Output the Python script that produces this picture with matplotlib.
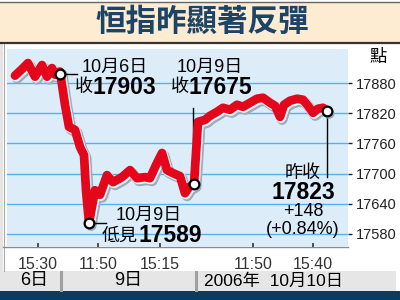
import matplotlib
matplotlib.use("Agg")
import matplotlib.pyplot as plt
import matplotlib.patheffects as pe
from matplotlib.patches import Rectangle

plt.rcParams['font.family'] = ['Liberation Sans', 'Noto Sans CJK TC']

# 恒指走勢 (x = 交易時段位置)
x6 = [15, 22, 28, 35, 42, 47, 52, 55, 60]
v6 = [17895, 17908, 17920, 17893, 17916, 17893, 17910, 17897, 17903]
x9 = [60, 65, 69, 75, 80, 84, 86, 89, 95, 100, 107, 113, 122, 130, 137, 145,
      150, 156, 162, 167, 173, 180, 185, 189, 194]
v9 = [17903, 17837, 17793, 17787, 17753, 17737, 17667, 17602, 17667, 17658,
      17697, 17683, 17693, 17707, 17691, 17693, 17691, 17717, 17741, 17707,
      17701, 17695, 17661, 17673, 17679]
x10 = [194, 198, 205, 210, 217, 223, 230, 237, 243, 250, 257, 263, 270, 275,
       280, 284, 290, 297, 303, 308, 313, 318, 323, 327]
v10 = [17679, 17803, 17807, 17815, 17823, 17831, 17827, 17837, 17833, 17841,
       17849, 17851, 17841, 17835, 17813, 17837, 17845, 17849, 17847, 17835,
       17821, 17829, 17831, 17825]

xs = x6 + x9[1:] + x10[1:]
vs = v6 + v9[1:] + v10[1:]

yticks = [17580, 17640, 17700, 17760, 17820, 17880]
xtick_pos = [38, 98, 160, 253, 313]
xtick_lab = ['15:30', '11:50', '15:15', '11:50', '15:40']

fig = plt.figure(figsize=(4, 3), dpi=100)

# background / frame in pixel coordinates
bg = fig.add_axes([0, 0, 1, 1])
bg.set_xlim(0, 400)
bg.set_ylim(300, 0)
bg.axis('off')
bg.add_patch(Rectangle((0, 2), 400, 40, color='#fdebd2', lw=0))
bg.plot([0, 400], [1.5, 1.5], color='#666666', lw=1)
bg.plot([0, 400], [43, 43], color='#333333', lw=1.6)
bg.add_patch(Rectangle((0, 44), 3, 227, color='#e4e4e4', lw=0))
bg.plot([3.5, 3.5], [44, 271], color='#a8a8a8', lw=0.8)
bg.add_patch(Rectangle((0, 271), 396, 20, color='#e6e6e6', lw=0))
bg.add_patch(Rectangle((0, 291), 400, 9, color='#0e3a5c', lw=0))
for sx in [61, 196]:
    bg.plot([sx, sx], [272, 290], color='#a0a0a0', lw=2.2)
bg.plot([3, 348], [247, 247], color='#8a8a8a', lw=1)
bg.text(202, 23, '恒指昨顯著反彈', ha='center', va='center', fontsize=22,
        fontweight='heavy', color='#1b4466')
bg.text(378, 57, '點', ha='center', va='center', fontsize=12.5)
bg.text(34, 281, '6日', ha='center', va='center', fontsize=13)
bg.text(128, 281, '9日', ha='center', va='center', fontsize=13)
bg.text(204, 281, '2006年  10月10日', ha='left', va='center', fontsize=12.5)

ax = fig.add_axes([7 / 400, 1 - 247 / 300, 341 / 400, 198 / 300])
ax.set_facecolor('#dcedf9')
ax.set_xlim(7, 348)
ax.set_ylim(17554, 17948)
for s in ax.spines.values():
    s.set_visible(False)
for t in yticks:
    ax.axhline(t, color='#55b2ea', lw=1, zorder=1)

ax.yaxis.tick_right()
ax.set_yticks(yticks)
ax.set_yticklabels([str(t) for t in yticks], fontsize=10.5)
ax.tick_params(axis='y', direction='out', length=3, width=1, pad=3, colors='#222222')
ax.set_xticks(xtick_pos)
ax.set_xticklabels(xtick_lab, fontsize=11.5)
ax.tick_params(axis='x', direction='in', length=3, width=1.2, pad=7, colors='#333333')

ax.plot(xs, vs, color='#e4061b', lw=6.3, solid_joinstyle='round',
        solid_capstyle='round', zorder=3,
        path_effects=[pe.Stroke(offset=(1.6, -2), linewidth=7.6, foreground='#9aabbd'),
                      pe.Stroke(offset=(0.7, -0.9), linewidth=7, foreground='#f4f7fa'),
                      pe.Normal()])

# leader lines
ax.plot([60, 77], [17899, 17899], color='k', lw=1, zorder=4)
ax.plot([193, 193], [17679, 17831], color='k', lw=1, zorder=2)
ax.plot([89, 106], [17602, 17602], color='k', lw=1, zorder=4)
ax.plot([327, 327], [17825, 17694], color='k', lw=1, zorder=2)

# key points
ax.plot([60, 194, 89, 327], [17899, 17679, 17602, 17825], 'o', ms=7,
        mfc='white', mec='black', mew=1.6, zorder=5)

fs, fb = 13, 16.5
ax.text(115, 17912, '10月6日', ha='center', va='center', fontsize=fs)
ax.text(93, 17871, '收', ha='right', va='center', fontsize=fs)
ax.text(93, 17871, '17903', ha='left', va='center', fontsize=fb, fontweight='bold')
ax.text(210, 17912, '10月9日', ha='center', va='center', fontsize=fs)
ax.text(189, 17871, '收', ha='right', va='center', fontsize=fs)
ax.text(189, 17871, '17675', ha='left', va='center', fontsize=fb, fontweight='bold')
ax.text(149, 17617, '10月9日', ha='center', va='center', fontsize=fs)
ax.text(138, 17576, '低見', ha='right', va='center', fontsize=fs)
ax.text(138, 17576, '17589', ha='left', va='center', fontsize=fb, fontweight='bold')
ax.text(303, 17701, '昨收', ha='center', va='center', fontsize=fs)
ax.text(303, 17663, '17823', ha='center', va='center', fontsize=fb, fontweight='bold')
ax.text(303, 17624, '+148', ha='center', va='center', fontsize=fs)
ax.text(303, 17588, '(+0.84%)', ha='center', va='center', fontsize=fs)

fig.savefig('out.png', dpi=100)
